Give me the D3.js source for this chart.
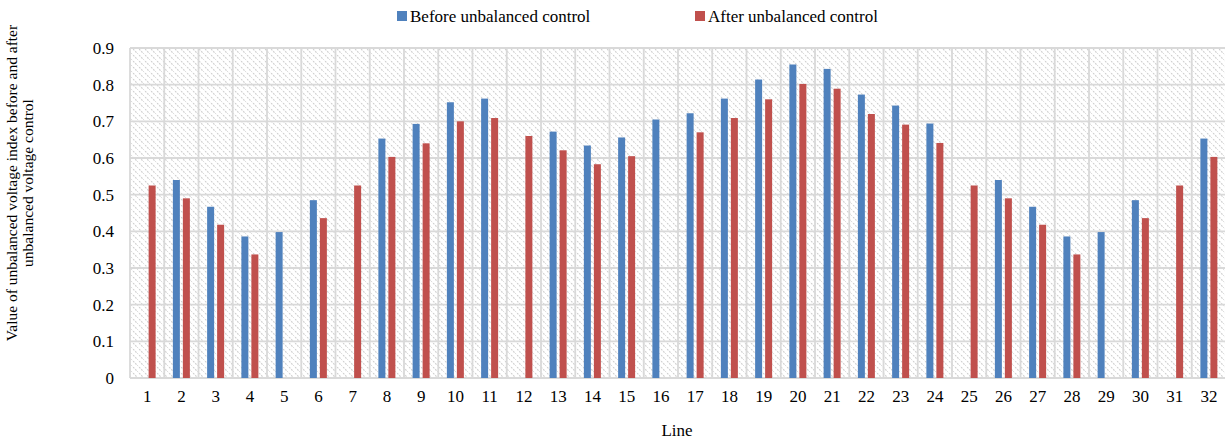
<!DOCTYPE html>
<html>
<head>
<meta charset="utf-8">
<script src="https://cdn.jsdelivr.net/npm/d3@7/dist/d3.min.js"></script>
<style>
  html, body { margin: 0; padding: 0; background: #fff; }
  svg { display: block; font-family: "Liberation Serif", "Times New Roman", serif; }
</style>
</head>
<body>
<svg id="chart" width="1225" height="439"></svg>
<script>
const categories = d3.range(1, 33).map(String);
const seriesNames = ["Before unbalanced control", "After unbalanced control"];
const before = [0, 0.54, 0.467, 0.386, 0.398, 0.485, 0, 0.653, 0.693, 0.752, 0.762, 0, 0.672, 0.634, 0.656, 0.705,
                0.722, 0.762, 0.814, 0.855, 0.843, 0.773, 0.743, 0.694, 0, 0.54, 0.467, 0.386, 0.398, 0.485, 0, 0.653];
const after  = [0.525, 0.49, 0.418, 0.337, 0, 0.436, 0.525, 0.603, 0.64, 0.70, 0.709, 0.66, 0.621, 0.583, 0.605, 0,
                0.67, 0.709, 0.76, 0.802, 0.789, 0.72, 0.691, 0.641, 0.525, 0.49, 0.418, 0.337, 0, 0.436, 0.525, 0.603];
const yTicks = [0, 0.1, 0.2, 0.3, 0.4, 0.5, 0.6, 0.7, 0.8, 0.9];
const yTickLabels = ["0", "0.1", "0.2", "0.3", "0.4", "0.5", "0.6", "0.7", "0.8", "0.9"];
const colors = ["#4f81bd", "#c0504d"];

const svg = d3.select("#chart");
const L = 130, R = 1226, T = 48, B = 378;

const x = d3.scaleBand().domain(categories).range([L, R]).padding(0);
const y = d3.scaleLinear().domain([0, 0.9]).range([B, T]);
const xs = d3.scaleBand().domain(seriesNames).range([-8.5, 8.5]).paddingInner(0.3);

// hatch pattern
const defs = svg.append("defs");
const pat = defs.append("pattern").attr("id", "hatch").attr("patternUnits", "userSpaceOnUse")
  .attr("width", 6).attr("height", 6);
pat.append("rect").attr("width", 6).attr("height", 6).attr("fill", "#fff");
pat.append("path").attr("d", "M-1,-1 L7,7 M-4,2 L1,7 M2,-4 L7,1")
  .attr("stroke", "#cfcfcf").attr("stroke-width", 1.1).attr("stroke-dasharray", "1.8,1.2");

svg.append("rect").attr("x", L).attr("y", T).attr("width", R - L).attr("height", B - T)
  .attr("fill", "url(#hatch)");

// gridlines
const grid = svg.append("g").attr("stroke", "#d9d9d9").attr("stroke-width", 1.8);
grid.selectAll("line.h").data(yTicks).join("line")
  .attr("x1", L).attr("x2", R).attr("y1", d => y(d)).attr("y2", d => y(d));
grid.selectAll("line.v").data(categories.concat(["end"])).join("line")
  .attr("x1", (d, i) => L + i * x.step()).attr("x2", (d, i) => L + i * x.step())
  .attr("y1", T).attr("y2", B);

// bars
const data = [before, after];
data.forEach((vals, si) => {
  svg.append("g").selectAll("rect").data(vals.map((v, i) => ({cat: categories[i], v})).filter(d => d.v > 0))
    .join("rect")
    .attr("x", d => x(d.cat) + x.bandwidth() / 2 + xs(seriesNames[si]))
    .attr("width", xs.bandwidth())
    .attr("y", d => y(d.v))
    .attr("height", d => y(0) - y(d.v))
    .attr("fill", colors[si]);
});

// y axis
const yAxis = d3.axisLeft(y).tickValues(yTicks).tickFormat((d, i) => yTickLabels[i]).tickSize(0).tickPadding(16);
const gy = svg.append("g").attr("transform", `translate(${L},0)`).call(yAxis);
gy.select(".domain").remove();
gy.selectAll("text").attr("font-family", "Liberation Serif").attr("font-size", 17).attr("fill", "#000");

// x axis
const xAxis = d3.axisBottom(x).tickSize(0).tickPadding(12);
const gx = svg.append("g").attr("transform", `translate(0,${B})`).call(xAxis);
gx.select(".domain").remove();
gx.selectAll("text").attr("font-family", "Liberation Serif").attr("font-size", 17).attr("fill", "#000");

// axis titles
svg.append("text").attr("x", (L + R) / 2 - 1).attr("y", 436).attr("text-anchor", "middle")
  .attr("font-size", 17).text("Line");
const yt = svg.append("text").attr("transform", "translate(0,183) rotate(-90)")
  .attr("text-anchor", "middle").attr("font-size", 15.5);
yt.append("tspan").attr("x", 0).attr("y", 17).text("Value of unbalanced voltage index before and after");
yt.append("tspan").attr("x", 0).attr("y", 33).text("unbalanced voltage control");

// legend
const legendX = [397, 695];
seriesNames.forEach((n, i) => {
  const g = svg.append("g").attr("transform", `translate(${legendX[i]},11)`);
  g.append("rect").attr("width", 10).attr("height", 10).attr("fill", colors[i]);
  g.append("text").attr("x", 13).attr("y", 10.5).attr("font-size", 17).text(n);
});
</script>
</body>
</html>
